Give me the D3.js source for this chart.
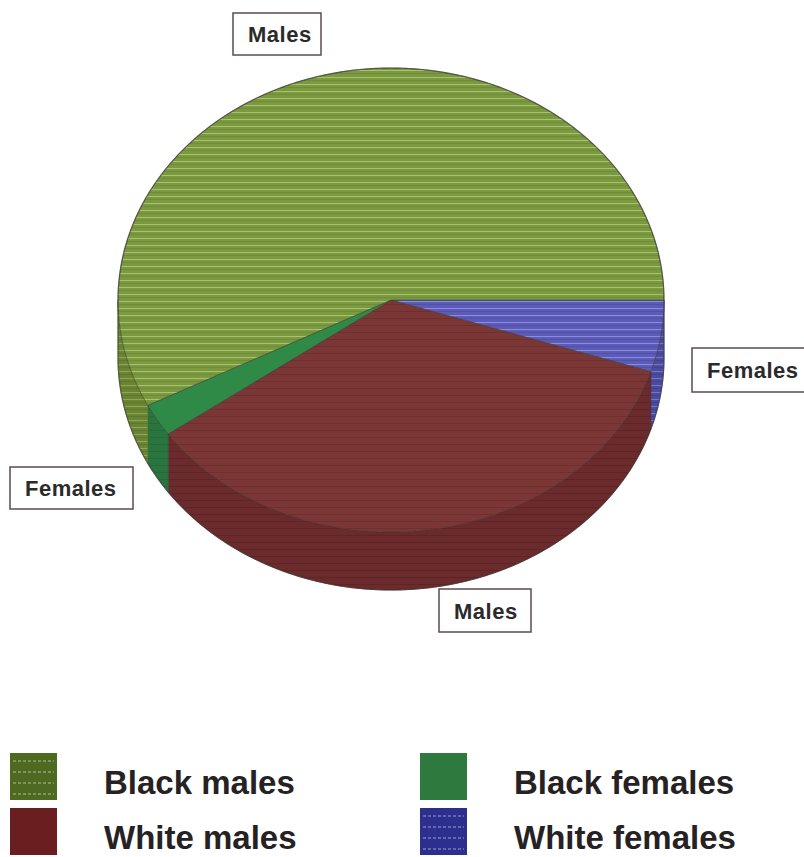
<!DOCTYPE html>
<html>
<head>
<meta charset="utf-8">
<script src="https://cdn.jsdelivr.net/npm/d3@7/dist/d3.min.js"></script>
<style>
  html, body { margin: 0; padding: 0; background: #ffffff; }
  svg { display: block; }
</style>
</head>
<body>
<svg id="chart" width="804" height="857"></svg>
<script>
// Slice order runs clockwise from the 3 o'clock position.
const categories = ["White females", "White males", "Black females", "Black males"];
const values = [5.0, 35.2, 2.3, 57.5];
const sliceLabels = ["Females", "Males", "Females", "Males"];
const legendOrder = ["Black males", "Black females", "White males", "White females"];

// Appearance
const topFill = {
  "Black males":   { base: "#7b9a40", line: "#a8c270", dark: "#6f8c38" },
  "Black females": { base: "#2f8a48", line: "#2f8a48", dark: "#2f8a48" },
  "White males":   { base: "#7b3636", line: "#7b3636", dark: "#6f2f30" },
  "White females": { base: "#5c5cb8", line: "#8c8cdc", dark: "#5050a8" }
};
const wallFill = {
  "Black males":   { base: "#6a8434", line: "#8da75a", dark: "#5e772d" },
  "Black females": { base: "#2a7440", line: "#2a7440", dark: "#256a3a" },
  "White males":   { base: "#6b2b2c", line: "#6b2b2c", dark: "#5f2526" },
  "White females": { base: "#4b4ba0", line: "#7676c4", dark: "#42428f" }
};
const legendFill = {
  "Black males": "#4e6a20",
  "Black females": "#2e7a3e",
  "White males": "#6a1e20",
  "White females": "#2c2f8e"
};

const svg = d3.select("#chart");
const defs = svg.append("defs");

function stripePattern(id, c, period) {
  const p = defs.append("pattern")
    .attr("id", id).attr("patternUnits", "userSpaceOnUse")
    .attr("width", 8).attr("height", period);
  p.append("rect").attr("width", 8).attr("height", period).attr("fill", c.base);
  p.append("rect").attr("y", 0).attr("width", 8).attr("height", 1).attr("fill", c.line);
  p.append("rect").attr("y", Math.floor(period / 2)).attr("width", 8).attr("height", 1).attr("fill", c.dark);
}
categories.forEach((k, i) => {
  stripePattern("top" + i, topFill[k], 7);
  stripePattern("wall" + i, wallFill[k], 7);
});

// Tilted pie geometry
const cx = 391, cy = 300, rx = 273, ry = 232, depth = 58;
const pie = d3.pie().sort(null).value(d => d.value)
  .startAngle(Math.PI / 2).endAngle(Math.PI / 2 + 2 * Math.PI);
const arcs = pie(categories.map((c, i) => ({ key: c, value: values[i], label: sliceLabels[i], idx: i })));

// d3 angle (0 = up, clockwise) projected onto the tilted ellipse
const px = a => cx + rx * Math.sin(a);
const py = (a, dz = 0) => cy - ry * Math.cos(a) + dz;

function arcPoints(a0, a1, dz) {
  const n = Math.max(2, Math.ceil(Math.abs(a1 - a0) / 0.01));
  return d3.range(n + 1).map(j => {
    const a = a0 + (a1 - a0) * j / n;
    return [px(a), py(a, dz)];
  });
}

const line = d3.line();
const gPie = svg.append("g");

// Outer walls on the near half of the disc
const frontStart = Math.PI / 2, frontEnd = 3 * Math.PI / 2;
arcs.forEach(d => {
  const s = Math.max(d.startAngle, frontStart);
  const e = Math.min(d.endAngle, frontEnd);
  if (e <= s) return;
  const pts = arcPoints(s, e, 0).concat(arcPoints(e, s, depth));
  gPie.append("path")
    .attr("d", line(pts) + "Z")
    .attr("fill", "url(#wall" + d.data.idx + ")")
    .attr("stroke", wallFill[d.data.key].dark)
    .attr("stroke-width", 0.8);
});

// Top faces
arcs.forEach(d => {
  const pts = [[cx, cy]].concat(arcPoints(d.startAngle, d.endAngle, 0));
  gPie.append("path")
    .attr("d", line(pts) + "Z")
    .attr("fill", "url(#top" + d.data.idx + ")")
    .attr("stroke", "#3b3b30")
    .attr("stroke-opacity", 0.55)
    .attr("stroke-width", 1);
});

// Silhouette outline
const outline = arcPoints(-Math.PI / 2, Math.PI / 2, 0)
  .concat(arcPoints(Math.PI / 2, 3 * Math.PI / 2, depth))
  .concat([[px(-Math.PI / 2), py(-Math.PI / 2)]]);
gPie.append("path")
  .attr("d", line(outline))
  .attr("fill", "none")
  .attr("stroke", "#3a3a36")
  .attr("stroke-opacity", 0.6)
  .attr("stroke-width", 1.2);

// Slice callouts
const calloutBox = {
  "White females": { x: 692, y: 348, w: 130, h: 44 },
  "White males":   { x: 439, y: 589, w: 92,  h: 43 },
  "Black females": { x: 10,  y: 467, w: 123, h: 42 },
  "Black males":   { x: 233, y: 13,  w: 88,  h: 42 }
};
const gLab = svg.append("g");
arcs.forEach(d => {
  const b = calloutBox[d.data.key];
  gLab.append("rect")
    .attr("x", b.x).attr("y", b.y).attr("width", b.w).attr("height", b.h)
    .attr("fill", "#ffffff")
    .attr("stroke", "#5e4a50").attr("stroke-width", 1.5);
  gLab.append("text")
    .attr("x", b.x + 15).attr("y", b.y + b.h / 2 + 8)
    .attr("font-family", "'Liberation Sans', Arial, sans-serif")
    .attr("font-weight", "bold").attr("font-size", 22)
    .attr("letter-spacing", 0.5)
    .attr("fill", "#2b2b2b")
    .text(d.data.label);
});

// Legend
const legendX = d3.scaleOrdinal().domain([0, 1]).range([10, 420]);
const legendY = d3.scaleOrdinal().domain([0, 1]).range([753, 808]);
const gLeg = svg.append("g");
legendOrder.forEach((k, i) => {
  const col = i % 2, row = Math.floor(i / 2);
  const x = legendX(col), y = legendY(row);
  gLeg.append("rect")
    .attr("x", x).attr("y", y).attr("width", 47).attr("height", 47)
    .attr("fill", legendFill[k]);
  if (k === "Black males" || k === "White females") {
    d3.range(4).forEach(j => {
      gLeg.append("line")
        .attr("x1", x + 3).attr("x2", x + 44)
        .attr("y1", y + 8 + j * 11).attr("y2", y + 8 + j * 11)
        .attr("stroke", "#ffffff").attr("stroke-opacity", 0.55)
        .attr("stroke-width", 1).attr("stroke-dasharray", "3 2");
    });
  }
  gLeg.append("text")
    .attr("x", x + 94).attr("y", y + 41)
    .attr("font-family", "'Liberation Sans', Arial, sans-serif")
    .attr("font-weight", "bold").attr("font-size", 33)
    .attr("fill", "#262224")
    .text(k);
});
</script>
</body>
</html>
